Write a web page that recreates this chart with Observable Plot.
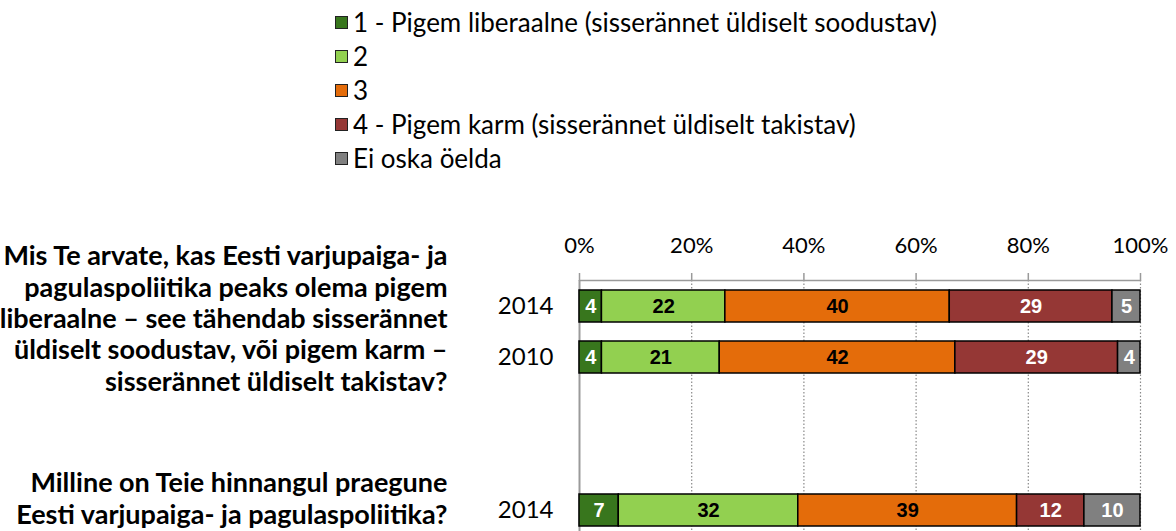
<!DOCTYPE html>
<html>
<head>
<meta charset="utf-8">
<script src="https://cdn.jsdelivr.net/npm/d3@7"></script>
<script src="https://cdn.jsdelivr.net/npm/@observablehq/plot@0.6"></script>
<style>
  html, body { margin: 0; padding: 0; background: #fff; }
  #wrap { width: 1176px; height: 531px; overflow: hidden; font-family: Lato, "Open Sans", sans-serif; color: #000; }
  #legend { height: 190px; box-sizing: border-box; padding-top: 5px; padding-left: 335px; }
  .item { height: 34px; display: flex; align-items: center; font-size: 26px; }
  .sw { width: 11px; height: 11px; border: 1px solid #222; margin-right: 5px; flex: none; }
  svg { display: block; }
</style>
</head>
<body>
<div id="wrap">
  <div id="legend"></div>
  <div id="chart"></div>
</div>
<script>
// ---- data ----
const categories = [
  "1 - Pigem liberaalne (sisserännet üldiselt soodustav)",
  "2",
  "3",
  "4 - Pigem karm (sisserännet üldiselt takistav)",
  "Ei oska öelda"
];
const colors = ["#38761d", "#92d050", "#e46c0a", "#953735", "#808080"];
const rowKeys = ["q1-2014", "q1-2010", "gap-a", "gap-b", "q2-2014"];
const rowLabels = ["2014", "2010", "", "", "2014"];
const q1_2014 = [4, 22, 40, 29, 5];
const q1_2010 = [4, 21, 42, 29, 4];
const q2_2014 = [7, 32, 39, 12, 10];
const xTicks = [0, 20, 40, 60, 80, 100];
const question1 = "Mis Te arvate, kas Eesti varjupaiga- ja\npagulaspoliitika peaks olema pigem\nliberaalne – see tähendab sisserännet\nüldiselt soodustav, või pigem karm –\nsisserännet üldiselt takistav?";
const question2 = "Milline on Teie hinnangul praegune\nEesti varjupaiga- ja pagulaspoliitika?";

// ---- build table ----
const series = [["q1-2014", q1_2014], ["q1-2010", q1_2010], ["q2-2014", q2_2014]];
const data = series.flatMap(([row, vals]) => vals.map((v, i) => ({row, cat: categories[i], value: v})));
const darkCats = new Set([categories[0], categories[3], categories[4]]);
const labelOf = new Map(rowKeys.map((k, i) => [k, rowLabels[i]]));

// ---- legend ----
const legend = document.getElementById("legend");
categories.forEach((c, i) => {
  const it = document.createElement("div");
  it.className = "item";
  const sw = document.createElement("span");
  sw.className = "sw";
  sw.style.background = colors[i];
  const t = document.createElement("span");
  t.textContent = c;
  it.appendChild(sw); it.appendChild(t);
  legend.appendChild(it);
});

const stack = (opts) => Plot.stackX({x: "value", y: "row", z: "cat", order: categories, ...opts});
const barFont = "'Liberation Sans Narrow', 'Arial Narrow', 'Liberation Sans', Arial, sans-serif";
const axisGray = "#9a9a9a";

const chart = Plot.plot({
  width: 1176,
  height: 341,
  marginLeft: 579,
  marginRight: 36,
  marginTop: 90,
  marginBottom: 0,
  style: {fontFamily: "Lato, 'Open Sans', sans-serif", color: "#000", background: "#fff"},
  x: {domain: [0, 100], axis: null, label: null},
  y: {domain: rowKeys, range: [90, 346], paddingInner: 0.373, paddingOuter: 0.196, axis: null, label: null},
  color: {domain: categories, range: colors},
  marks: [
    Plot.gridX(xTicks.slice(1), {stroke: "#8a8a8a", strokeOpacity: 1, strokeWidth: 1.2, strokeDasharray: "1.5,2"}),
    // top axis line (at the frame top, above the first band)
    Plot.ruleY([rowKeys[0]], {x1: 0, x2: 100, dy: -26, stroke: axisGray, strokeWidth: 1.5}),
    Plot.ruleX([0], {stroke: axisGray, strokeWidth: 2}),
    Plot.axisX({anchor: "top", ticks: xTicks, tickFormat: () => "", tickSize: 8, stroke: axisGray, strokeWidth: 1.5, label: null}),
    Plot.text(xTicks, {x: d => d, text: d => d + "%", frameAnchor: "top", dy: -35, lineAnchor: "middle", fontSize: 22, fill: "#000"}),
    Plot.axisY({ticks: rowKeys, tickFormat: d => labelOf.get(d), tickSize: 0, tickPadding: 26, fontSize: 24, label: null}),
    Plot.barX(data, stack({fill: "cat", stroke: "#000", strokeWidth: 1.5})),
    Plot.text(data, stack({text: d => darkCats.has(d.cat) ? d.value : "", fill: "#fff", fontWeight: "bold", fontSize: 20, fontFamily: barFont})),
    Plot.text(data, stack({text: d => darkCats.has(d.cat) ? "" : d.value, fill: "#000", fontWeight: "bold", fontSize: 20, fontFamily: barFont})),
    Plot.text([{row: "q1-2014", q: question1}], {y: "row", text: "q", frameAnchor: "left", dx: -132, dy: 11.5, textAnchor: "end", lineAnchor: "middle", lineHeight: 1.16, fontWeight: "bold", fontSize: 27}),
    Plot.text([{row: "q2-2014", q: question2}], {y: "row", text: "q", frameAnchor: "left", dx: -132, dy: -12.5, textAnchor: "end", lineAnchor: "middle", lineHeight: 1.16, fontWeight: "bold", fontSize: 27})
  ]
});
document.getElementById("chart").appendChild(chart);
</script>
</body>
</html>
